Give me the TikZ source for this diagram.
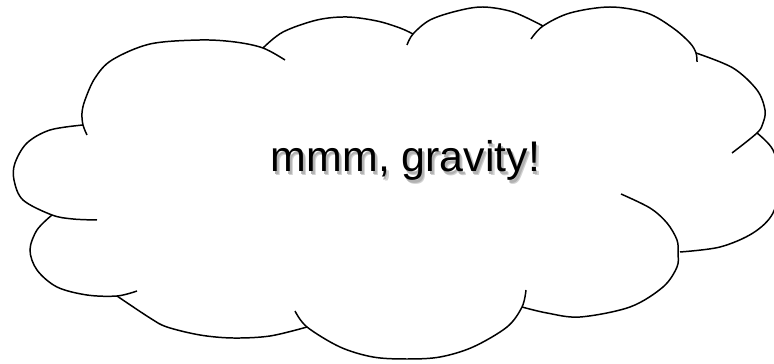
\documentclass[tikz,border=0pt]{standalone}
\usepackage{fontspec}
\setmainfont{Liberation Sans}
\usepackage{tikz}
\usetikzlibrary{positioning}
\newcommand{\shadowed}[1]{%
  \rlap{\hspace{0.07em}\raisebox{-0.09em}{\textcolor{black!18}{#1}}}%
  \rlap{\hspace{0.04em}\raisebox{-0.05em}{\textcolor{black!30}{#1}}}#1}

\begin{document}
\begin{tikzpicture}[x=0.02cm, y=-0.02cm,
  lobe/.style={line width=0.85pt, smooth, tension=0.55},
  saying/.style={font=\fontsize{24.4}{29}\selectfont, inner sep=0pt, anchor=base}]
  \useasboundingbox (0,0) rectangle (774,364);
  \clip (0,0) rectangle (774,364);
  % lobes of the cloud, clockwise from the left
  \draw[lobe] plot coordinates {(83,125) (50,130) (27,143) (15,163) (14,180) (23,200) (52,215) (73,219) (97,220)};
  \draw[lobe] plot coordinates {(87,135) (83,125) (82,113) (85,100) (95,78) (112,60) (150,44) (200,40) (235,42) (263,48) (285,60)};
  \draw[lobe] plot coordinates {(263,48) (283,32) (317,20) (347,17) (377,21) (400,28) (413,34)};
  \draw[lobe] plot coordinates {(407,45) (413,34) (430,20) (457,11) (483,7) (513,12) (543,26)};
  \draw[lobe] plot coordinates {(531,39) (543,26) (570,13) (610,7) (647,13) (673,28) (690,43) (696,53) (697,62)};
  \draw[lobe] plot coordinates {(696,53) (733,68) (757,90) (765,110) (763,123) (757,133) (732,153)};
  \draw[lobe] plot coordinates {(757,133) (773,150) (780,180) (773,213) (753,233) (720,247) (680,252)};
  \draw[lobe] plot coordinates {(621,194) (650,208) (667,223) (677,240) (678,253) (677,267) (663,287) (630,307) (580,317) (547,313) (522,307)};
  \draw[lobe] plot coordinates {(526,290) (522,307) (507,327) (473,347) (440,357) (407,359) (373,357) (340,347) (307,327) (295,311)};
  \draw[lobe] plot coordinates {(117,296) (150,318) (167,327) (200,335) (233,338) (270,336) (307,327)};
  \draw[lobe] plot coordinates {(52,215) (37,230) (30,250) (37,270) (57,287) (87,295) (117,296) (137,291)};
  % the text, with its soft shadow
  \node[saying] (words) at (405.5,172) {\shadowed{mmm, gravity!}};
\end{tikzpicture}
\end{document}
